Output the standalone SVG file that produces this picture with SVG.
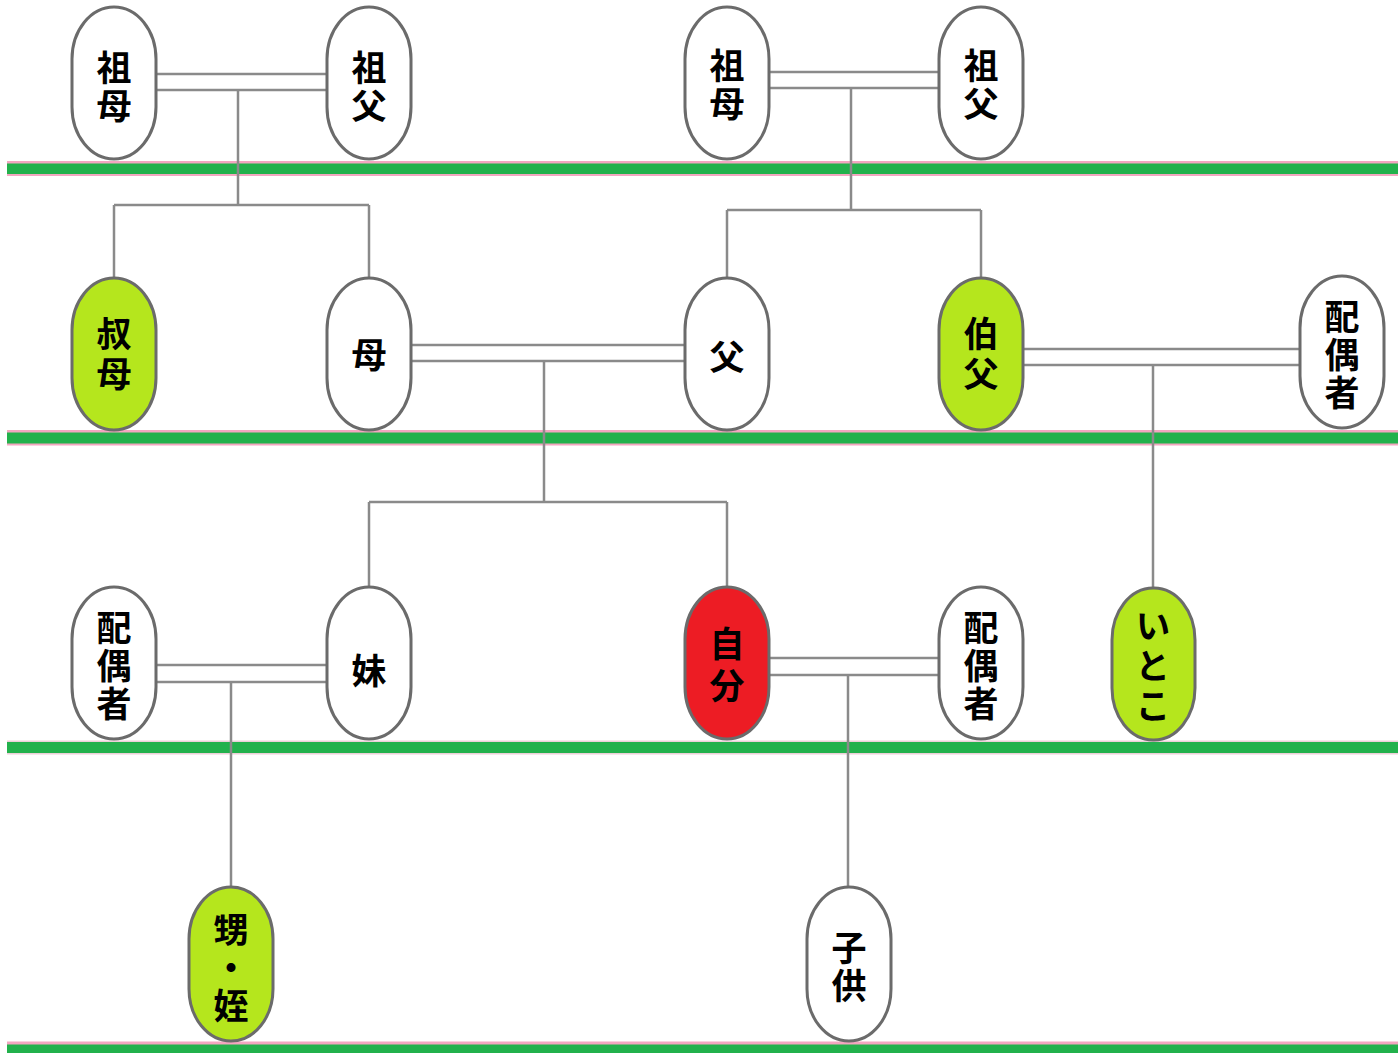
<svg xmlns="http://www.w3.org/2000/svg" width="1398" height="1053" viewBox="0 0 1398 1053">
<style>
.band{fill:#22b14c}
.pink{fill:#f3a6c0}
.node rect{stroke:#6b6b6b;stroke-width:3;fill:#ffffff}
.node.lime rect{fill:#b5e61d}
.node.red rect{fill:#ed1c24}
.node text{font-family:"Noto Sans CJK JP","Noto Sans CJK SC",sans-serif;font-weight:bold;font-size:35px;fill:#000;text-anchor:middle;dominant-baseline:central;writing-mode:vertical-rl;letter-spacing:3px}
.node text.w{letter-spacing:5px}
.node text.ww{letter-spacing:7px}
#connectors path{fill:none;stroke:#8a8a8a;stroke-width:2.5}
</style>
<rect width="1398" height="1053" fill="#ffffff"/>
<g id="bands">
<rect class="pink" x="7" y="161" width="1391" height="15"/>
<rect class="band" x="7" y="163.5" width="1391" height="10.5"/>
<rect class="pink" x="7" y="430" width="1391" height="15.5"/>
<rect class="band" x="7" y="432.5" width="1391" height="11"/>
<rect fill="#eccfd8" x="7" y="740.5" width="1391" height="14"/>
<rect class="band" x="7" y="742" width="1391" height="11"/>
<rect class="pink" x="7" y="1041.5" width="1391" height="11.5"/>
<rect class="band" x="7" y="1044.5" width="1391" height="8.5"/>
</g>
<g id="connectors">
<path d="M156 74H328M156 90H328M238 90V205M114 205H369M114 205V278M369 205V278"/>
<path d="M768 72H940M768 88H940M851 88V210M727 210H981M727 210V278M981 210V278"/>
<path d="M410 345H686M410 361H686M544 361V502M369 502H727M369 502V587M727 502V587"/>
<path d="M1022 349H1300M1022 365H1300M1153 365V588"/>
<path d="M156 665H328M156 682H328M231 682V887"/>
<path d="M768 658H940M768 675H940M848 675V887"/>
</g>
<g id="n-sobo1" class="node"><rect x="72" y="7" width="84" height="152" rx="42" ry="52"/><text x="114" y="88">祖母</text></g>
<g id="n-sofu1" class="node"><rect x="327" y="7" width="84" height="152" rx="42" ry="52"/><text x="369" y="88">祖父</text></g>
<g id="n-sobo2" class="node"><rect x="685" y="7" width="84" height="152" rx="42" ry="52"/><text x="727" y="86">祖母</text></g>
<g id="n-sofu2" class="node"><rect x="939" y="7" width="84" height="152" rx="42" ry="52"/><text x="981" y="86">祖父</text></g>
<g id="n-shukubo" class="node lime"><rect x="72" y="278" width="84" height="152" rx="42" ry="52"/><text class="w" x="114" y="356">叔母</text></g>
<g id="n-haha" class="node"><rect x="327" y="278" width="84" height="152" rx="42" ry="52"/><text x="369" y="356">母</text></g>
<g id="n-chichi" class="node"><rect x="685" y="278" width="84" height="152" rx="42" ry="52"/><text x="727" y="358">父</text></g>
<g id="n-hakufu" class="node lime"><rect x="939" y="278" width="84" height="152" rx="42" ry="52"/><text class="w" x="981" y="356">伯父</text></g>
<g id="n-haigusha1" class="node"><rect x="1300" y="276" width="84" height="152" rx="42" ry="52"/><text x="1342" y="356">配偶者</text></g>
<g id="n-haigusha2" class="node"><rect x="72" y="587" width="84" height="152" rx="42" ry="52"/><text x="114" y="667">配偶者</text></g>
<g id="n-imouto" class="node"><rect x="327" y="587" width="84" height="152" rx="42" ry="52"/><text x="369" y="672">妹</text></g>
<g id="n-jibun" class="node red"><rect x="685" y="587" width="84" height="152" rx="42" ry="52"/><text class="ww" x="727" y="668">自分</text></g>
<g id="n-haigusha3" class="node"><rect x="939" y="587" width="84" height="152" rx="42" ry="52"/><text x="981" y="667">配偶者</text></g>
<g id="n-itoko" class="node lime"><rect x="1112" y="588" width="83" height="152" rx="41" ry="52"/><text class="w" x="1153" y="668">いとこ</text></g>
<g id="n-oimei" class="node lime"><rect x="189" y="887" width="84" height="154" rx="42" ry="52"/><text x="231" y="969">甥・姪</text></g>
<g id="n-kodomo" class="node"><rect x="807" y="887" width="84" height="154" rx="42" ry="52"/><text x="849" y="968">子供</text></g>
</svg>
